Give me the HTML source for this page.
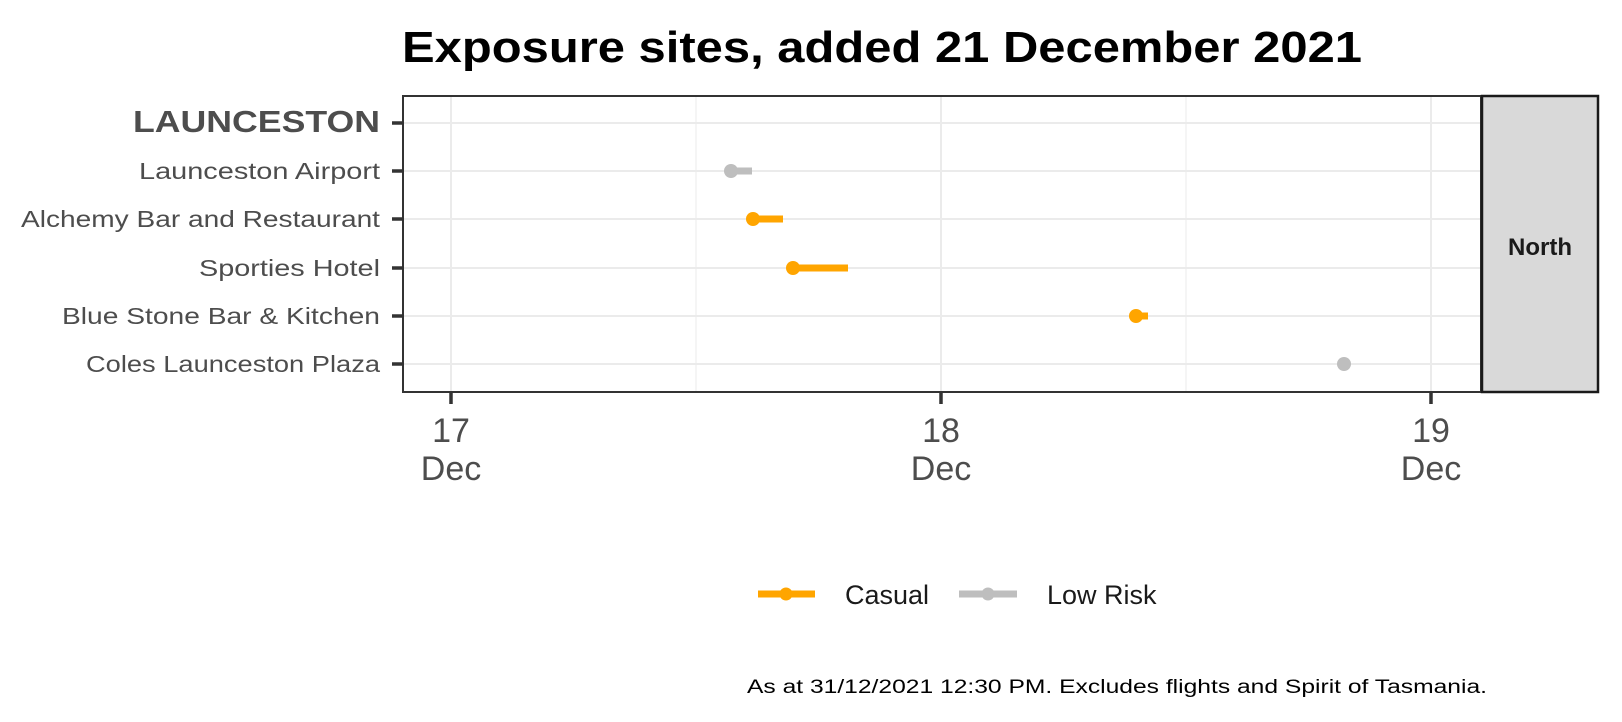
<!DOCTYPE html>
<html><head><meta charset="utf-8"><style>body{margin:0;background:#fff}svg{display:block}text{font-family:"Liberation Sans",sans-serif}</style></head>
<body>
<svg width="1622" height="722" xmlns="http://www.w3.org/2000/svg">
<rect width="1622" height="722" fill="#fff"/>
<text x="882" y="62" text-anchor="middle" font-size="44" font-weight="bold" fill="#000" textLength="960" lengthAdjust="spacingAndGlyphs">Exposure sites, added 21 December 2021</text>
<g stroke="#ebebeb">
<line x1="696" y1="95" x2="696" y2="392" stroke-width="1"/>
<line x1="1186" y1="95" x2="1186" y2="392" stroke-width="1"/>
<g stroke-width="2">
<line x1="451" y1="95" x2="451" y2="392"/><line x1="941" y1="95" x2="941" y2="392"/><line x1="1431" y1="95" x2="1431" y2="392"/>
<line x1="403" y1="123" x2="1481" y2="123"/><line x1="403" y1="171" x2="1481" y2="171"/><line x1="403" y1="219" x2="1481" y2="219"/>
<line x1="403" y1="268" x2="1481" y2="268"/><line x1="403" y1="316" x2="1481" y2="316"/><line x1="403" y1="364" x2="1481" y2="364"/>
</g></g>
<rect x="403" y="96" width="1078" height="296" fill="none" stroke="#333" stroke-width="2"/>
<rect x="1482" y="96" width="116" height="296" fill="#d9d9d9" stroke="#1a1a1a" stroke-width="2.5"/>
<text x="1540" y="255" text-anchor="middle" font-size="24" font-weight="bold" fill="#1a1a1a">North</text>
<g stroke-width="7">
<line x1="731" y1="171" x2="752" y2="171" stroke="#bebebe"/>
<line x1="753" y1="219" x2="783" y2="219" stroke="#ffa500"/>
<line x1="793" y1="268" x2="848" y2="268" stroke="#ffa500"/>
<line x1="1136" y1="316" x2="1148" y2="316" stroke="#ffa500"/>
</g>
<circle cx="731" cy="171" r="7" fill="#bebebe"/>
<circle cx="753" cy="219" r="7" fill="#ffa500"/>
<circle cx="793" cy="268" r="7" fill="#ffa500"/>
<circle cx="1136" cy="316" r="7" fill="#ffa500"/>
<circle cx="1344" cy="364" r="7" fill="#bebebe"/>
<g stroke="#333" stroke-width="3.5">
<line x1="392" y1="123" x2="403" y2="123"/><line x1="392" y1="171" x2="403" y2="171"/><line x1="392" y1="219" x2="403" y2="219"/>
<line x1="392" y1="268" x2="403" y2="268"/><line x1="392" y1="316" x2="403" y2="316"/><line x1="392" y1="364" x2="403" y2="364"/>
<line x1="451" y1="392" x2="451" y2="404"/><line x1="941" y1="392" x2="941" y2="404"/><line x1="1431" y1="392" x2="1431" y2="404"/>
</g>
<g fill="#4d4d4d" text-anchor="end" font-size="23">
<text x="380" y="132" font-weight="bold" font-size="31" textLength="247" lengthAdjust="spacingAndGlyphs">LAUNCESTON</text>
<text x="380" y="179" textLength="241" lengthAdjust="spacingAndGlyphs">Launceston Airport</text>
<text x="380" y="227" textLength="359" lengthAdjust="spacingAndGlyphs">Alchemy Bar and Restaurant</text>
<text x="380" y="276" textLength="181" lengthAdjust="spacingAndGlyphs">Sporties Hotel</text>
<text x="380" y="324" textLength="318" lengthAdjust="spacingAndGlyphs">Blue Stone Bar &amp; Kitchen</text>
<text x="380" y="372" textLength="294" lengthAdjust="spacingAndGlyphs">Coles Launceston Plaza</text>
</g>
<g fill="#4d4d4d" text-anchor="middle" font-size="34">
<text x="451" y="442">17</text><text x="451" y="480">Dec</text>
<text x="941" y="442">18</text><text x="941" y="480">Dec</text>
<text x="1431" y="442">19</text><text x="1431" y="480">Dec</text>
</g>
<line x1="758" y1="594" x2="815" y2="594" stroke="#ffa500" stroke-width="7"/><circle cx="786" cy="594" r="6.5" fill="#ffa500"/>
<text x="845" y="604" font-size="27" fill="#1a1a1a">Casual</text>
<line x1="959" y1="594" x2="1017" y2="594" stroke="#bebebe" stroke-width="7"/><circle cx="988" cy="594" r="6.5" fill="#bebebe"/>
<text x="1047" y="604" font-size="27" fill="#1a1a1a">Low Risk</text>
<text x="747" y="693" font-size="19" fill="#000" textLength="740" lengthAdjust="spacingAndGlyphs">As at 31/12/2021 12:30 PM. Excludes flights and Spirit of Tasmania.</text>
</svg>
</body></html>
